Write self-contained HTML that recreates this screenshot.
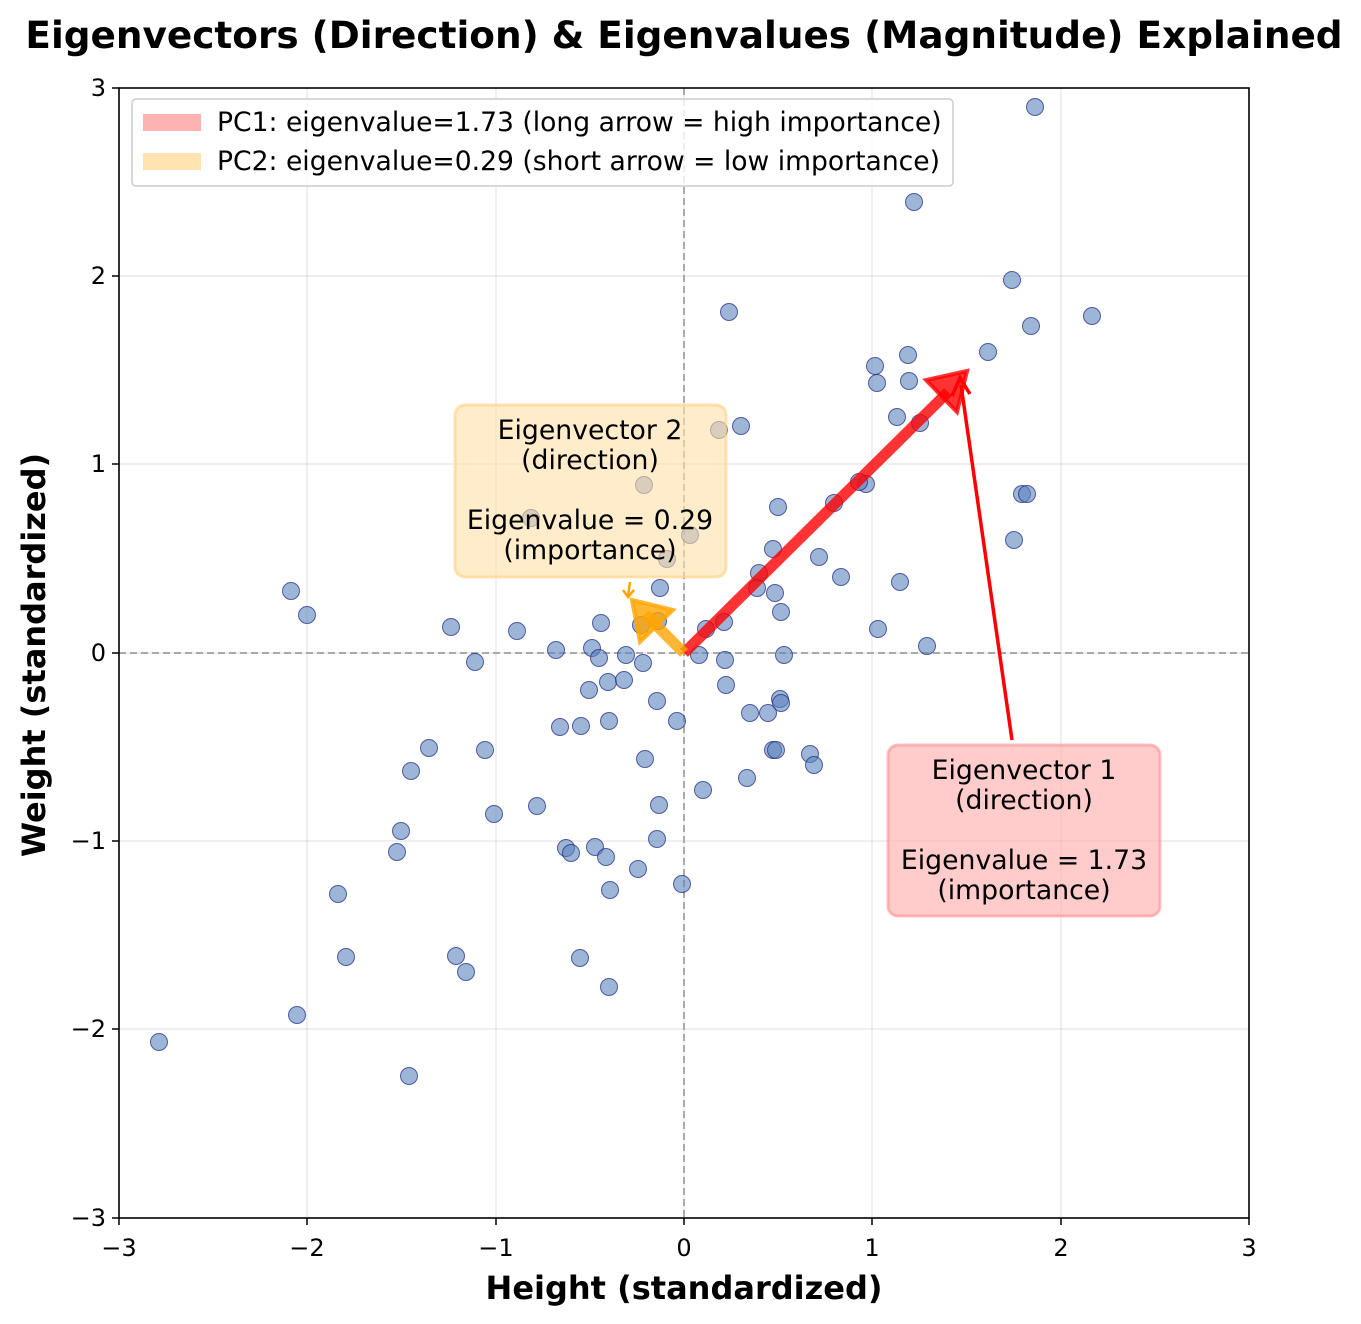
<!DOCTYPE html>
<html><head><style>body{margin:0;background:#fff}svg{display:block;font-family:"DejaVu Sans","Liberation Sans",sans-serif}</style></head><body>
<svg width="1361" height="1324" xmlns="http://www.w3.org/2000/svg">
<rect width="1361" height="1324" fill="#fff"/>
<text x="684" y="48" text-anchor="middle" font-size="37.4" font-weight="bold">Eigenvectors (Direction) &amp; Eigenvalues (Magnitude) Explained</text>
<g stroke="#000" stroke-opacity="0.1" stroke-width="1.2">
<line x1="119" y1="88" x2="119" y2="1218"/><line x1="307" y1="88" x2="307" y2="1218"/><line x1="496" y1="88" x2="496" y2="1218"/><line x1="684" y1="88" x2="684" y2="1218"/><line x1="872" y1="88" x2="872" y2="1218"/><line x1="1061" y1="88" x2="1061" y2="1218"/>
<line x1="119" y1="276" x2="1249" y2="276"/><line x1="119" y1="464" x2="1249" y2="464"/><line x1="119" y1="653" x2="1249" y2="653"/><line x1="119" y1="841" x2="1249" y2="841"/><line x1="119" y1="1029" x2="1249" y2="1029"/>
</g>
<g stroke="#aaa" stroke-width="2" stroke-dasharray="7,4"><line x1="684" y1="88" x2="684" y2="1218"/><line x1="119" y1="653" x2="1249" y2="653"/></g>
<g fill="#5b84bd" fill-opacity="0.6" stroke="#1a237e" stroke-opacity="0.7" stroke-width="1">
<circle cx="1035" cy="107" r="8.5"/><circle cx="914" cy="202" r="8.5"/><circle cx="1012" cy="280" r="8.5"/><circle cx="729" cy="312" r="8.5"/><circle cx="1092" cy="316" r="8.5"/><circle cx="1031" cy="326" r="8.5"/><circle cx="988" cy="352" r="8.5"/><circle cx="908" cy="355" r="8.5"/><circle cx="875" cy="366" r="8.5"/><circle cx="909" cy="381" r="8.5"/><circle cx="877" cy="383" r="8.5"/><circle cx="897" cy="417" r="8.5"/><circle cx="920" cy="423" r="8.5"/><circle cx="741" cy="426" r="8.5"/><circle cx="719" cy="430" r="8.5"/><circle cx="644" cy="485" r="8.5"/><circle cx="866" cy="484" r="8.5"/><circle cx="859" cy="482" r="8.5"/><circle cx="1022" cy="494" r="8.5"/><circle cx="1027" cy="494" r="8.5"/><circle cx="778" cy="507" r="8.5"/><circle cx="834" cy="503" r="8.5"/><circle cx="531" cy="518" r="8.5"/><circle cx="690" cy="535" r="8.5"/><circle cx="1014" cy="540" r="8.5"/><circle cx="773" cy="549" r="8.5"/><circle cx="819" cy="557" r="8.5"/><circle cx="667" cy="559" r="8.5"/><circle cx="759" cy="573" r="8.5"/><circle cx="841" cy="577" r="8.5"/><circle cx="900" cy="582" r="8.5"/><circle cx="757" cy="588" r="8.5"/><circle cx="660" cy="588" r="8.5"/><circle cx="775" cy="593" r="8.5"/><circle cx="291" cy="591" r="8.5"/><circle cx="307" cy="615" r="8.5"/><circle cx="781" cy="612" r="8.5"/><circle cx="601" cy="623" r="8.5"/><circle cx="451" cy="627" r="8.5"/><circle cx="517" cy="631" r="8.5"/><circle cx="641" cy="625" r="8.5"/><circle cx="724" cy="622" r="8.5"/><circle cx="658" cy="621" r="8.5"/><circle cx="706" cy="629" r="8.5"/><circle cx="927" cy="646" r="8.5"/><circle cx="878" cy="629" r="8.5"/><circle cx="556" cy="650" r="8.5"/><circle cx="592" cy="648" r="8.5"/><circle cx="599" cy="658" r="8.5"/><circle cx="626" cy="655" r="8.5"/><circle cx="699" cy="655" r="8.5"/><circle cx="784" cy="655" r="8.5"/><circle cx="475" cy="662" r="8.5"/><circle cx="643" cy="663" r="8.5"/><circle cx="725" cy="660" r="8.5"/><circle cx="608" cy="682" r="8.5"/><circle cx="624" cy="680" r="8.5"/><circle cx="589" cy="690" r="8.5"/><circle cx="726" cy="685" r="8.5"/><circle cx="780" cy="699" r="8.5"/><circle cx="781" cy="703" r="8.5"/><circle cx="657" cy="701" r="8.5"/><circle cx="609" cy="721" r="8.5"/><circle cx="677" cy="721" r="8.5"/><circle cx="750" cy="713" r="8.5"/><circle cx="768" cy="713" r="8.5"/><circle cx="560" cy="727" r="8.5"/><circle cx="581" cy="726" r="8.5"/><circle cx="429" cy="748" r="8.5"/><circle cx="485" cy="750" r="8.5"/><circle cx="773" cy="750" r="8.5"/><circle cx="776" cy="750" r="8.5"/><circle cx="810" cy="754" r="8.5"/><circle cx="814" cy="765" r="8.5"/><circle cx="411" cy="771" r="8.5"/><circle cx="645" cy="759" r="8.5"/><circle cx="747" cy="778" r="8.5"/><circle cx="703" cy="790" r="8.5"/><circle cx="537" cy="806" r="8.5"/><circle cx="659" cy="805" r="8.5"/><circle cx="494" cy="814" r="8.5"/><circle cx="401" cy="831" r="8.5"/><circle cx="657" cy="839" r="8.5"/><circle cx="566" cy="848" r="8.5"/><circle cx="595" cy="847" r="8.5"/><circle cx="571" cy="853" r="8.5"/><circle cx="397" cy="852" r="8.5"/><circle cx="606" cy="857" r="8.5"/><circle cx="638" cy="869" r="8.5"/><circle cx="682" cy="884" r="8.5"/><circle cx="610" cy="890" r="8.5"/><circle cx="338" cy="894" r="8.5"/><circle cx="346" cy="957" r="8.5"/><circle cx="456" cy="956" r="8.5"/><circle cx="580" cy="958" r="8.5"/><circle cx="466" cy="972" r="8.5"/><circle cx="609" cy="987" r="8.5"/><circle cx="297" cy="1015" r="8.5"/><circle cx="159" cy="1042" r="8.5"/><circle cx="409" cy="1076" r="8.5"/>
</g>
<g fill="#ff0000" fill-opacity="0.8" stroke="#ff0000" stroke-opacity="0.8" stroke-linejoin="miter">
<line x1="684" y1="653" x2="948" y2="392" stroke-width="11"/>
<polygon points="967,371 926,380 957,412" stroke-width="4"/>
</g>
<g fill="#ffa500" fill-opacity="0.8" stroke="#ffa500" stroke-opacity="0.8">
<line x1="684" y1="653" x2="645" y2="614" stroke-width="11"/>
<polygon points="632,600 673,610 640,642" stroke-width="4"/>
</g>
<rect x="455" y="405" width="271" height="172" rx="10" fill="#ffe0a8" fill-opacity="0.6" stroke="#ffd080" stroke-opacity="0.6" stroke-width="3"/>
<g font-size="26.7" text-anchor="middle" fill="#000">
<text x="590" y="439">Eigenvector 2</text><text x="590" y="469">(direction)</text>
<text x="590" y="529">Eigenvalue = 0.29</text><text x="590" y="559">(importance)</text>
</g>
<path d="M630,582 L628,596" stroke="#ffa500" stroke-width="2.5"/>
<path d="M623,590 L628,597 L634,590" stroke="#ffa500" stroke-width="2.5" fill="none"/>
<line x1="1012" y1="740" x2="961" y2="385" stroke="#ff0000" stroke-width="3.5"/>
<path d="M952,396 L960,378 L970,394" stroke="#ff0000" stroke-width="3.5" fill="none"/>
<rect x="888" y="745" width="272" height="171" rx="10" fill="#ffa8a8" fill-opacity="0.6" stroke="#ff9090" stroke-opacity="0.6" stroke-width="3"/>
<g font-size="26.7" text-anchor="middle" fill="#000">
<text x="1024" y="779">Eigenvector 1</text><text x="1024" y="809">(direction)</text>
<text x="1024" y="869">Eigenvalue = 1.73</text><text x="1024" y="899">(importance)</text>
</g>
<rect x="132" y="99" width="821" height="87" rx="4" fill="#fff" fill-opacity="0.8" stroke="#ccc" stroke-width="1.5"/>
<rect x="143" y="114" width="58" height="17" fill="#ff0000" fill-opacity="0.3"/>
<rect x="143" y="153" width="58" height="17" fill="#ffa500" fill-opacity="0.3"/>
<text x="217" y="131" font-size="26.6">PC1: eigenvalue=1.73 (long arrow = high importance)</text>
<text x="217" y="170" font-size="26.6">PC2: eigenvalue=0.29 (short arrow = low importance)</text>
<rect x="119" y="88" width="1130" height="1130" fill="none" stroke="#000" stroke-width="1.6"/>
<g stroke="#000" stroke-width="1.5">
<line x1="119" y1="1218" x2="119" y2="1225"/><line x1="307" y1="1218" x2="307" y2="1225"/><line x1="496" y1="1218" x2="496" y2="1225"/><line x1="684" y1="1218" x2="684" y2="1225"/><line x1="872" y1="1218" x2="872" y2="1225"/><line x1="1061" y1="1218" x2="1061" y2="1225"/><line x1="1249" y1="1218" x2="1249" y2="1225"/>
<line x1="112" y1="88" x2="119" y2="88"/><line x1="112" y1="276" x2="119" y2="276"/><line x1="112" y1="464" x2="119" y2="464"/><line x1="112" y1="653" x2="119" y2="653"/><line x1="112" y1="841" x2="119" y2="841"/><line x1="112" y1="1029" x2="119" y2="1029"/><line x1="112" y1="1218" x2="119" y2="1218"/>
</g>
<g font-size="24" text-anchor="middle">
<text x="119" y="1256">−3</text><text x="307" y="1256">−2</text><text x="496" y="1256">−1</text><text x="684" y="1256">0</text><text x="872" y="1256">1</text><text x="1061" y="1256">2</text><text x="1249" y="1256">3</text>
</g>
<g font-size="24" text-anchor="end">
<text x="106" y="96">3</text><text x="106" y="284">2</text><text x="106" y="472">1</text><text x="106" y="661">0</text><text x="106" y="849">−1</text><text x="106" y="1037">−2</text><text x="106" y="1226">−3</text>
</g>
<text x="684" y="1299" text-anchor="middle" font-size="32" font-weight="bold">Height (standardized)</text>
<text transform="translate(45,655) rotate(-90)" text-anchor="middle" font-size="32" font-weight="bold">Weight (standardized)</text>
</svg>
</body></html>
